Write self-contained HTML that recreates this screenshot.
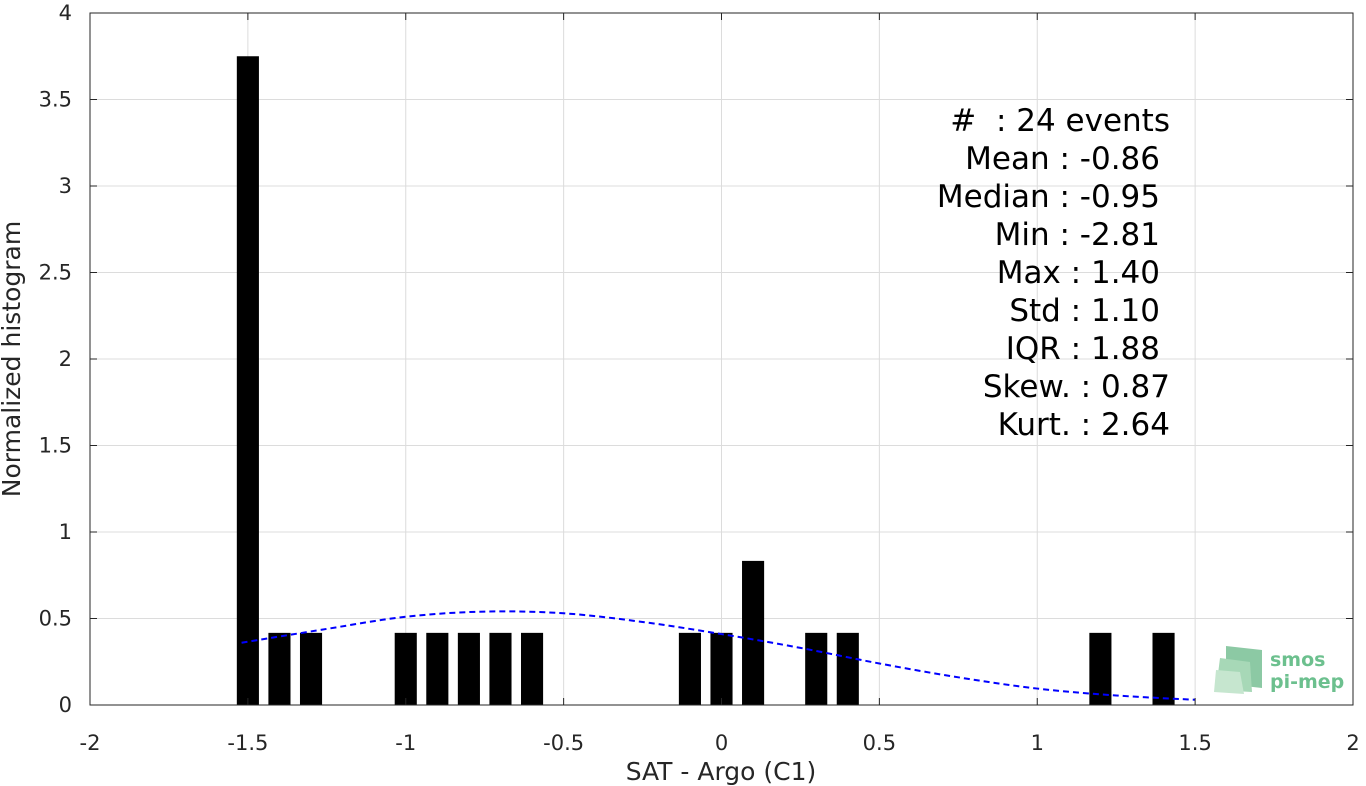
<!DOCTYPE html>
<html><head><meta charset="utf-8"><style>
body{margin:0;background:#fff;font-family:"DejaVu Sans","Liberation Sans",sans-serif}
svg{display:block}
</style></head><body>
<svg id="chart" width="1366" height="786" viewBox="0 0 1366 786" xmlns="http://www.w3.org/2000/svg" font-family="DejaVu Sans, sans-serif">
<g id="grid"></g>
<g id="bars"></g>
<path id="fit" fill="none" stroke="#0000ff" stroke-width="2" stroke-dasharray="6,4"/>
<rect x="90" y="13" width="1263" height="692" fill="none" stroke="#262626" stroke-width="1"/>
<g id="ticks" font-size="21" fill="#262626"></g>
<text x="721" y="780" font-size="25" text-anchor="middle" fill="#262626">SAT - Argo (C1)</text>
<text transform="translate(20,359) rotate(-90)" font-size="25" text-anchor="middle" fill="#262626">Normalized histogram</text>
<g font-size="31" fill="#000" text-anchor="end">
<text x="1170" y="131"># &#160;: 24 events</text>
<text x="1160" y="169">Mean : -0.86</text>
<text x="1160" y="207">Median : -0.95</text>
<text x="1160" y="245">Min : -2.81</text>
<text x="1160" y="283">Max : 1.40</text>
<text x="1160" y="321">Std : 1.10</text>
<text x="1160" y="359">IQR : 1.88</text>
<text x="1170" y="397">Skew. : 0.87</text>
<text x="1170" y="435">Kurt. : 2.64</text>
</g>
<g>
<polygon points="1226,646 1262,650 1262,688 1226,684" fill="#8cc9a4"/>
<polygon points="1220,658 1250,662 1252,692 1216,690" fill="#a7d8b7"/>
<polygon points="1216,670 1240,672 1244,694 1214,692" fill="#c6e6cf"/>
<text x="1270" y="666" font-size="19" font-weight="bold" fill="#6cc08e">smos</text>
<text x="1270" y="688" font-size="19" font-weight="bold" fill="#6cc08e">pi-mep</text>
</g>
</svg>
<script>
const binCenters=[-1.5,-1.4,-1.3,-1.0,-0.9,-0.8,-0.7,-0.6,-0.1,0.0,0.1,0.3,0.4,1.2,1.4];
const binValues=[3.75,0.417,0.417,0.417,0.417,0.417,0.417,0.417,0.417,0.417,0.833,0.417,0.417,0.417,0.417];
const fitX=[-1.52,-1.25,-1.0,-0.75,-0.5,-0.25,0.0,0.25,0.5,0.75,1.0,1.25,1.5];
const fitY=[0.36,0.44,0.51,0.54,0.53,0.48,0.41,0.33,0.24,0.16,0.095,0.055,0.03];
const xTicks=[-2,-1.5,-1,-0.5,0,0.5,1,1.5,2];
const xTickLabels=["-2","-1.5","-1","-0.5","0","0.5","1","1.5","2"];
const yTicks=[0,0.5,1,1.5,2,2.5,3,3.5,4];
const yTickLabels=["0","0.5","1","1.5","2","2.5","3","3.5","4"];
const binWidth=0.07;
const NS="http://www.w3.org/2000/svg";
const X=v=>90+(v+2)*315.75, Y=v=>705-v*173;
const grid=document.getElementById('grid'),ticks=document.getElementById('ticks'),bars=document.getElementById('bars');
function mk(t,a,p){const e=document.createElementNS(NS,t);for(const k in a)e.setAttribute(k,a[k]);p.appendChild(e);return e;}
xTicks.forEach((v,i)=>{
 const g=mk('line',{x1:X(v),x2:X(v),y1:13,y2:705,stroke:'#dcdcdc','stroke-width':1},grid);
 
 
 mk('line',{x1:X(v),x2:X(v),y1:705,y2:698,stroke:'#262626'},ticks);
 mk('line',{x1:X(v),x2:X(v),y1:13,y2:20,stroke:'#262626'},ticks);
 const t=mk('text',{x:X(v),y:750,'text-anchor':'middle'},ticks);t.textContent=xTickLabels[i];
 
 
});
yTicks.forEach((v,i)=>{
 const g=mk('line',{x1:90,x2:1353,y1:Y(v),y2:Y(v),stroke:'#dcdcdc','stroke-width':1},grid);
 
 
 mk('line',{x1:90,x2:97,y1:Y(v),y2:Y(v),stroke:'#262626'},ticks);
 mk('line',{x1:1346,x2:1353,y1:Y(v),y2:Y(v),stroke:'#262626'},ticks);
 const t=mk('text',{x:72,y:Y(v)+7,'text-anchor':'end'},ticks);t.textContent=yTickLabels[i];
 
 
});
binCenters.forEach((c,i)=>{
 const r=mk('rect',{x:X(c-binWidth/2),y:Y(binValues[i]),width:X(c+binWidth/2)-X(c-binWidth/2),height:Y(0)-Y(binValues[i]),fill:'#000'},bars);
 
 
});
let d='';
for(let i=0;i<fitX.length;i++){
 const x=X(fitX[i]),y=Y(fitY[i]);
 if(i===0){d='M'+x+','+y;continue;}
 const p0=i>1?[X(fitX[i-2]),Y(fitY[i-2])]:[X(fitX[i-1]),Y(fitY[i-1])];
 const p1=[X(fitX[i-1]),Y(fitY[i-1])];
 const p3=i<fitX.length-1?[X(fitX[i+1]),Y(fitY[i+1])]:[x,y];
 d+=` C${p1[0]+(x-p0[0])/6},${p1[1]+(y-p0[1])/6} ${x-(p3[0]-p1[0])/6},${y-(p3[1]-p1[1])/6} ${x},${y}`;
}
document.getElementById('fit').setAttribute('d',d);
</script>
</body></html>
